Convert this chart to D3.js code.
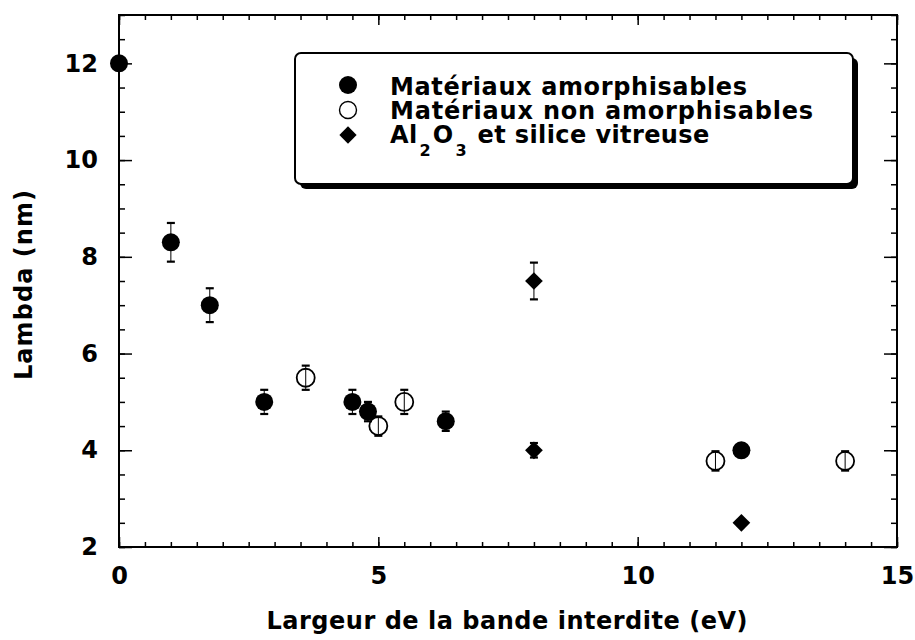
<!DOCTYPE html>
<html>
<head>
<meta charset="utf-8">
<script src="https://cdn.jsdelivr.net/npm/d3@7"></script>
<style>
  html, body { margin: 0; padding: 0; background: #fff; }
  svg { display: block; font-family: "DejaVu Sans", Verdana, sans-serif; font-weight: bold; }
</style>
</head>
<body>
<svg id="chart" width="915" height="640"></svg>
<script>
// Band gap (eV) vs. lambda (nm) with error half-widths
const amorphX   = [0, 1.0, 1.75, 2.8, 4.5, 4.8, 6.3, 12.0];
const amorphY   = [12, 8.3, 7.0, 5.0, 5.0, 4.8, 4.6, 4.0];
const amorphErr = [0, 0.4, 0.35, 0.25, 0.25, 0.2, 0.2, 0.1];

const nonAmorphX   = [3.6, 5.0, 5.5, 11.5, 14.0];
const nonAmorphY   = [5.5, 4.5, 5.0, 3.78, 3.78];
const nonAmorphErr = [0.25, 0.2, 0.25, 0.2, 0.2];

const aluminaX   = [8.0, 8.0, 12.0];
const aluminaY   = [7.5, 4.0, 2.5];
const aluminaErr = [0.38, 0.15, 0];

const xTicks = [0, 5, 10, 15];
const yTicks = [2, 4, 6, 8, 10, 12];

const legendLabels = ["Matériaux amorphisables", "Matériaux non amorphisables", "Al|2|O|3| et silice vitreuse"];

const svg = d3.select("#chart");
const m = { left: 119, right: 897, top: 15, bottom: 547 };

const x = d3.scaleLinear().domain([0, 15]).range([m.left, m.right]);
const y = d3.scaleLinear().domain([2, 13]).range([m.bottom, m.top]);

const ink = "#000";
const FONT = "DejaVu Sans, Verdana, sans-serif";

// Axes: ticks point inward on all four sides
const minorX = d3.range(0, 15.01, 0.5);
const minorY = d3.range(2, 13.01, 0.5);

function addAxis(axis, transform) {
  const g = svg.append("g").attr("transform", transform).call(axis);
  g.select(".domain").remove();
  g.selectAll("line").attr("stroke", ink).attr("stroke-width", 1.5);
  return g;
}

addAxis(d3.axisBottom(x).tickValues(minorX).tickSize(-5).tickFormat(""), `translate(0,${m.bottom})`);
addAxis(d3.axisBottom(x).tickValues(xTicks).tickSize(-10).tickFormat(""), `translate(0,${m.bottom})`);
addAxis(d3.axisTop(x).tickValues(minorX).tickSize(-5).tickFormat(""), `translate(0,${m.top})`);
addAxis(d3.axisTop(x).tickValues(xTicks).tickSize(-10).tickFormat(""), `translate(0,${m.top})`);
addAxis(d3.axisLeft(y).tickValues(minorY).tickSize(-6).tickFormat(""), `translate(${m.left},0)`);
addAxis(d3.axisLeft(y).tickValues(yTicks).tickSize(-13).tickFormat(""), `translate(${m.left},0)`);
addAxis(d3.axisRight(y).tickValues(minorY).tickSize(-6).tickFormat(""), `translate(${m.right},0)`);
addAxis(d3.axisRight(y).tickValues(yTicks).tickSize(-13).tickFormat(""), `translate(${m.right},0)`);

// Frame
svg.append("rect")
  .attr("x", m.left).attr("y", m.top)
  .attr("width", m.right - m.left).attr("height", m.bottom - m.top)
  .attr("fill", "none").attr("stroke", ink).attr("stroke-width", 2);

// Tick labels
function styleLabels(g) {
  g.select(".domain").remove();
  g.attr("font-family", FONT).attr("font-size", 24).attr("font-weight", "bold");
  g.selectAll("text").attr("fill", ink);
}
const gxl = svg.append("g").attr("transform", `translate(0,${m.bottom + 20})`)
  .call(d3.axisBottom(x).tickValues(xTicks).tickSize(0).tickPadding(0));
styleLabels(gxl);

const gyl = svg.append("g").attr("transform", `translate(${m.left - 21},0)`)
  .call(d3.axisLeft(y).tickValues(yTicks).tickSize(0).tickPadding(0));
styleLabels(gyl);

// Axis titles
svg.append("text")
  .attr("x", 507).attr("y", 629)
  .attr("text-anchor", "middle")
  .attr("font-size", 24)
  .attr("textLength", 481).attr("lengthAdjust", "spacing")
  .text("Largeur de la bande interdite (eV)");

svg.append("text")
  .attr("transform", "translate(32,285) rotate(-90)")
  .attr("text-anchor", "middle")
  .attr("font-size", 24)
  .attr("textLength", 190).attr("lengthAdjust", "spacing")
  .text("Lambda (nm)");

// Error bars
function errorBars(xs, ys, es) {
  const g = svg.append("g");
  xs.forEach((xv, i) => {
    const e = es[i];
    if (!e) return;
    const cx = x(xv), top = y(ys[i] + e), bot = y(ys[i] - e);
    g.append("line").attr("x1", cx).attr("x2", cx).attr("y1", top).attr("y2", bot)
      .attr("stroke", ink).attr("stroke-width", 1);
    [top, bot].forEach(yy => {
      g.append("line").attr("x1", cx - 4).attr("x2", cx + 4).attr("y1", yy).attr("y2", yy)
        .attr("stroke", ink).attr("stroke-width", 2.2);
    });
  });
}
errorBars(amorphX, amorphY, amorphErr);
errorBars(nonAmorphX, nonAmorphY, nonAmorphErr);
errorBars(aluminaX, aluminaY, aluminaErr);

const R = 9;
const diamond = d3.symbol().type(d3.symbolDiamond2).size(200);

// Open circles
svg.append("g").selectAll("circle")
  .data(nonAmorphX.map((v, i) => [v, nonAmorphY[i]]))
  .join("circle")
  .attr("cx", d => x(d[0])).attr("cy", d => y(d[1])).attr("r", R)
  .attr("fill", "none").attr("stroke", ink).attr("stroke-width", 1.8);

// Filled circles
svg.append("g").selectAll("circle")
  .data(amorphX.map((v, i) => [v, amorphY[i]]))
  .join("circle")
  .attr("cx", d => x(d[0])).attr("cy", d => y(d[1])).attr("r", R)
  .attr("fill", ink);

// Diamonds
svg.append("g").selectAll("path")
  .data(aluminaX.map((v, i) => [v, aluminaY[i]]))
  .join("path")
  .attr("transform", d => `translate(${x(d[0])},${y(d[1])})`)
  .attr("d", diamond)
  .attr("fill", ink);

// Legend with drop shadow
const lg = svg.append("g");
const lx = 295, ly = 53, lw = 558, lh = 131;
lg.append("rect").attr("x", lx + 5).attr("y", ly + 5).attr("width", lw).attr("height", lh)
  .attr("rx", 6).attr("fill", ink);
lg.append("rect").attr("x", lx).attr("y", ly).attr("width", lw).attr("height", lh)
  .attr("rx", 6).attr("fill", "#fff").attr("stroke", ink).attr("stroke-width", 2);

const baseY = [95, 119, 143];
const symY = [85, 110, 135];
const rowW = [357, 423, 318];
const symX = 348, txtX = 390;
lg.append("circle").attr("cx", symX).attr("cy", symY[0]).attr("r", 9).attr("fill", ink);
lg.append("circle").attr("cx", symX).attr("cy", symY[1]).attr("r", 8.5).attr("fill", "none")
  .attr("stroke", ink).attr("stroke-width", 1.4);
lg.append("path").attr("transform", `translate(${symX},${symY[2]})`)
  .attr("d", d3.symbol().type(d3.symbolDiamond2).size(190)).attr("fill", ink);

legendLabels.forEach((lab, i) => {
  const t = lg.append("text").attr("x", txtX).attr("y", baseY[i])
    .attr("font-size", 24).attr("fill", ink);
  const parts = lab.split("|");
  if (parts.length === 1) {
    t.attr("textLength", rowW[i]).attr("lengthAdjust", "spacing").text(lab);
    return;
  }
  // alternate normal text and subscripts
  parts.forEach((p, k) => {
    const sub = k % 2 === 1;
    t.append("tspan")
      .attr("dy", sub ? 13 : (k === 0 ? 0 : -13))
      .attr("font-size", sub ? 16 : 24)
      .attr("dx", sub ? 2 : (k === 0 ? 0 : 2))
      .attr("letter-spacing", sub ? 0 : 0.4)
      .text(p);
  });
});
</script>
</body>
</html>
